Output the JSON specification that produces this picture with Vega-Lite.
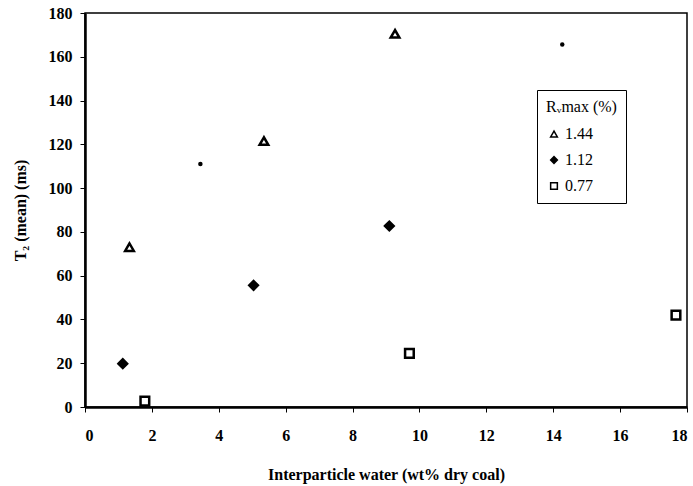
{
  "$schema": "https://vega.github.io/schema/vega-lite/v6.json",
  "width": 602,
  "height": 394,
  "autosize": {"type": "none"},
  "padding": {"left": 85, "top": 13, "right": 6, "bottom": 79},
  "background": "white",
  "config": {
    "view": {"stroke": "black", "strokeWidth": 1.5},
    "font": "Liberation Serif",
    "axis": {
      "grid": false,
      "domainColor": "black",
      "domainWidth": 2.5,
      "tickColor": "black",
      "tickWidth": 1,
      "labelColor": "black",
      "titleColor": "black",
      "labelFont": "Liberation Serif",
      "titleFont": "Liberation Serif",
      "labelFontSize": 16,
      "labelFontWeight": "bold",
      "titleFontSize": 16,
      "titleFontWeight": "bold"
    }
  },
  "datasets": {
    "main": [
      {"water": 1.33, "t2": 73, "rv": "1.44"},
      {"water": 5.35, "t2": 121.5, "rv": "1.44"},
      {"water": 9.27, "t2": 170.5, "rv": "1.44"},
      {"water": 1.13, "t2": 19.8, "rv": "1.12"},
      {"water": 5.04, "t2": 55.6, "rv": "1.12"},
      {"water": 9.1, "t2": 82.7, "rv": "1.12"},
      {"water": 1.79, "t2": 2.7, "rv": "0.77"},
      {"water": 9.7, "t2": 24.5, "rv": "0.77"},
      {"water": 17.67, "t2": 42, "rv": "0.77"}
    ],
    "faint": [
      {"water": 3.45, "t2": 111, "rv": "1.44"},
      {"water": 14.27, "t2": 165.6, "rv": "1.44"}
    ]
  },
  "layer": [
    {
      "data": {"name": "main"},
      "mark": {"type": "point", "filled": false, "strokeWidth": 2.5, "size": 75, "opacity": 1},
      "encoding": {
        "x": {
          "field": "water", "type": "quantitative",
          "scale": {"domain": [0, 18], "nice": false, "zero": true},
          "axis": {"values": [0, 2, 4, 6, 8, 10, 12, 14, 16, 18], "tickSize": 5, "tickOffset": 0, "labelPadding": 15, "title": "Interparticle water (wt% dry coal)", "titlePadding": 23}
        },
        "y": {
          "field": "t2", "type": "quantitative",
          "scale": {"domain": [0, 180], "nice": false},
          "axis": {"values": [0, 20, 40, 60, 80, 100, 120, 140, 160, 180], "tickSize": 5, "labelPadding": 8, "title": "T₂ (mean) (ms)", "titlePadding": 20}
        },
        "stroke": {"value": "black"},
        "shape": {
          "field": "rv", "type": "nominal",
          "scale": {"domain": ["1.44", "1.12", "0.77"], "range": ["triangle-up", "diamond", "square"]},
          "legend": {
            "title": "Rᵥmax (%)",
            "orient": "none",
            "legendX": 452,
            "legendY": 77,
            "strokeColor": "black",
            "padding": 9,
            "titleFont": "Liberation Serif",
            "titleFontSize": 16,
            "titleFontWeight": "normal",
            "titleColor": "black",
            "titlePadding": 11,
            "labelFont": "Liberation Serif",
            "labelFontSize": 16,
            "labelColor": "black",
            "symbolSize": 45,
            "rowPadding": 10,
            "labelOffset": 3,
            "encode": {
              "symbols": {
                "update": {
                  "stroke": {"value": "black"},
                  "strokeWidth": {"value": 2},
                  "opacity": {"value": 1}
                }
              }
            }
          }
        },
        "fill": {
          "field": "rv", "type": "nominal",
          "scale": {"domain": ["1.44", "1.12", "0.77"], "range": ["white", "black", "white"]},
          "legend": null
        }
      }
    },
    {
      "data": {"name": "faint"},
      "mark": {"type": "circle", "color": "black", "size": 20, "opacity": 1},
      "encoding": {
        "x": {"field": "water", "type": "quantitative"},
        "y": {"field": "t2", "type": "quantitative"}
      }
    }
  ]
}
